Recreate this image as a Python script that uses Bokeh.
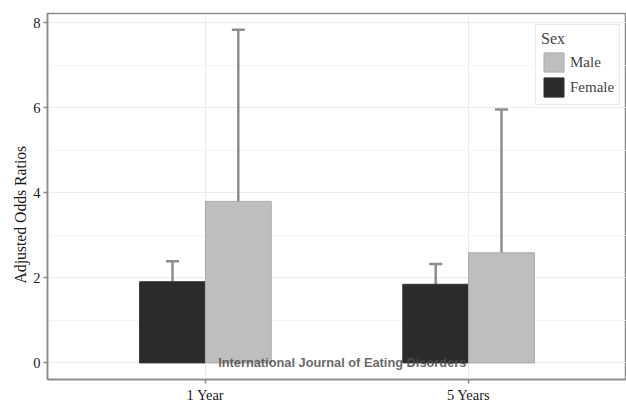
from bokeh.plotting import figure
from bokeh.models import (ColumnDataSource, Range1d, FixedTicker, Whisker,
                          TeeHead, Legend, LegendItem, Label, Title)
from bokeh.embed import file_html
from bokeh.resources import INLINE

# ---- data ----
periods = ["1 Year", "5 Years"]
female_or = [1.91, 1.85]
female_lo = [1.53, 1.48]
female_hi = [2.39, 2.33]
male_or = [3.80, 2.59]
male_lo = [1.82, 1.14]
male_hi = [7.84, 5.96]
y_ticks = [0, 2, 4, 6, 8]
y_minor = [1, 3, 5, 7]

SERIF = "Liberation Serif"
bw = 0.25
pos = [i + 1 for i in range(len(periods))]
f_x = [c - bw / 2 for c in pos]
m_x = [c + bw / 2 for c in pos]

src_f = ColumnDataSource(dict(x=f_x, val=female_or, lo=female_lo, hi=female_hi))
src_m = ColumnDataSource(dict(x=m_x, val=male_or, lo=male_lo, hi=male_hi))

p = figure(frame_width=579, frame_height=366,
           x_range=Range1d(0.4, 2.6), y_range=Range1d(-0.39, 8.22),
           output_backend="svg", toolbar_location=None,
           min_border_left=47, min_border_right=0, min_border_top=13, min_border_bottom=22)
p.background_fill_color = "white"
p.border_fill_color = "white"
p.outline_line_color = "#8a8a8a"
p.outline_line_width = 1.5

fr = p.vbar(x="x", top="val", bottom=0, width=bw, source=src_f,
            fill_color="#2b2b2b", line_color="#333333", line_width=1)
mr = p.vbar(x="x", top="val", bottom=0, width=bw, source=src_m,
            fill_color="#bebebe", line_color="#a9a9a9", line_width=1)

for src in (src_f, src_m):
    w = Whisker(base="x", upper="hi", lower="lo", source=src,
                line_color="#8e8e8e", line_width=2.5,
                upper_head=TeeHead(size=13, line_color="#8e8e8e", line_width=2.5),
                lower_head=TeeHead(size=13, line_color="#8e8e8e", line_width=2.5))
    p.add_layout(w)

# axes
p.xaxis.ticker = FixedTicker(ticks=pos, minor_ticks=[])
p.xaxis.major_label_overrides = {c: lab for c, lab in zip(pos, periods)}
p.yaxis.ticker = FixedTicker(ticks=y_ticks, minor_ticks=y_minor)
for ax in (p.xaxis[0], p.yaxis[0]):
    ax.axis_line_color = "#8a8a8a"
    ax.axis_line_width = 1.5
    ax.major_tick_line_color = "#8a8a8a"
    ax.major_tick_line_width = 1.5
    ax.major_tick_out = 4
    ax.major_tick_in = 0
    ax.minor_tick_line_color = None
    ax.major_label_text_font = SERIF
    ax.major_label_text_font_size = "14.5px"
    ax.major_label_text_color = "#1a1a1a"
    ax.major_label_standoff = 3

# y-axis title (sits slightly below centre, as in the original)
ytitle = Title(text="Adjusted Odds Ratios", align="left", offset=96, standoff=4,
               text_font=SERIF, text_font_size="15.7px", text_font_style="normal",
               text_color="#1a1a1a")
p.add_layout(ytitle, "left")

p.ygrid.grid_line_color = "#ebebeb"
p.ygrid.minor_grid_line_color = "#f4f4f4"
p.xgrid.grid_line_color = "#ebebeb"

# legend
legend = Legend(items=[LegendItem(label="Male", renderers=[mr]),
                       LegendItem(label="Female", renderers=[fr])],
                title="Sex", location=(488, 274))
legend.title_text_font = SERIF
legend.title_text_font_size = "16px"
legend.title_text_font_style = "normal"
legend.title_standoff = 2
legend.label_text_font = SERIF
legend.label_text_font_size = "15px"
legend.glyph_width = 25
legend.glyph_height = 24
legend.spacing = 1
legend.padding = 5
legend.margin = 0
legend.label_standoff = 4
legend.border_line_color = "#d6d6d6"
legend.border_line_width = 1
legend.background_fill_color = "white"
p.add_layout(legend)

# watermark
wm = Label(x=1.52, y=0.0, text="International Journal of Eating Disorders",
           text_align="center", text_baseline="alphabetic",
           text_font="Liberation Sans", text_font_style="bold", text_font_size="12.8px",
           text_color="#4d4d4d", text_alpha=0.85)
p.add_layout(wm)

open("out.html", "w").write(file_html(p, INLINE))
